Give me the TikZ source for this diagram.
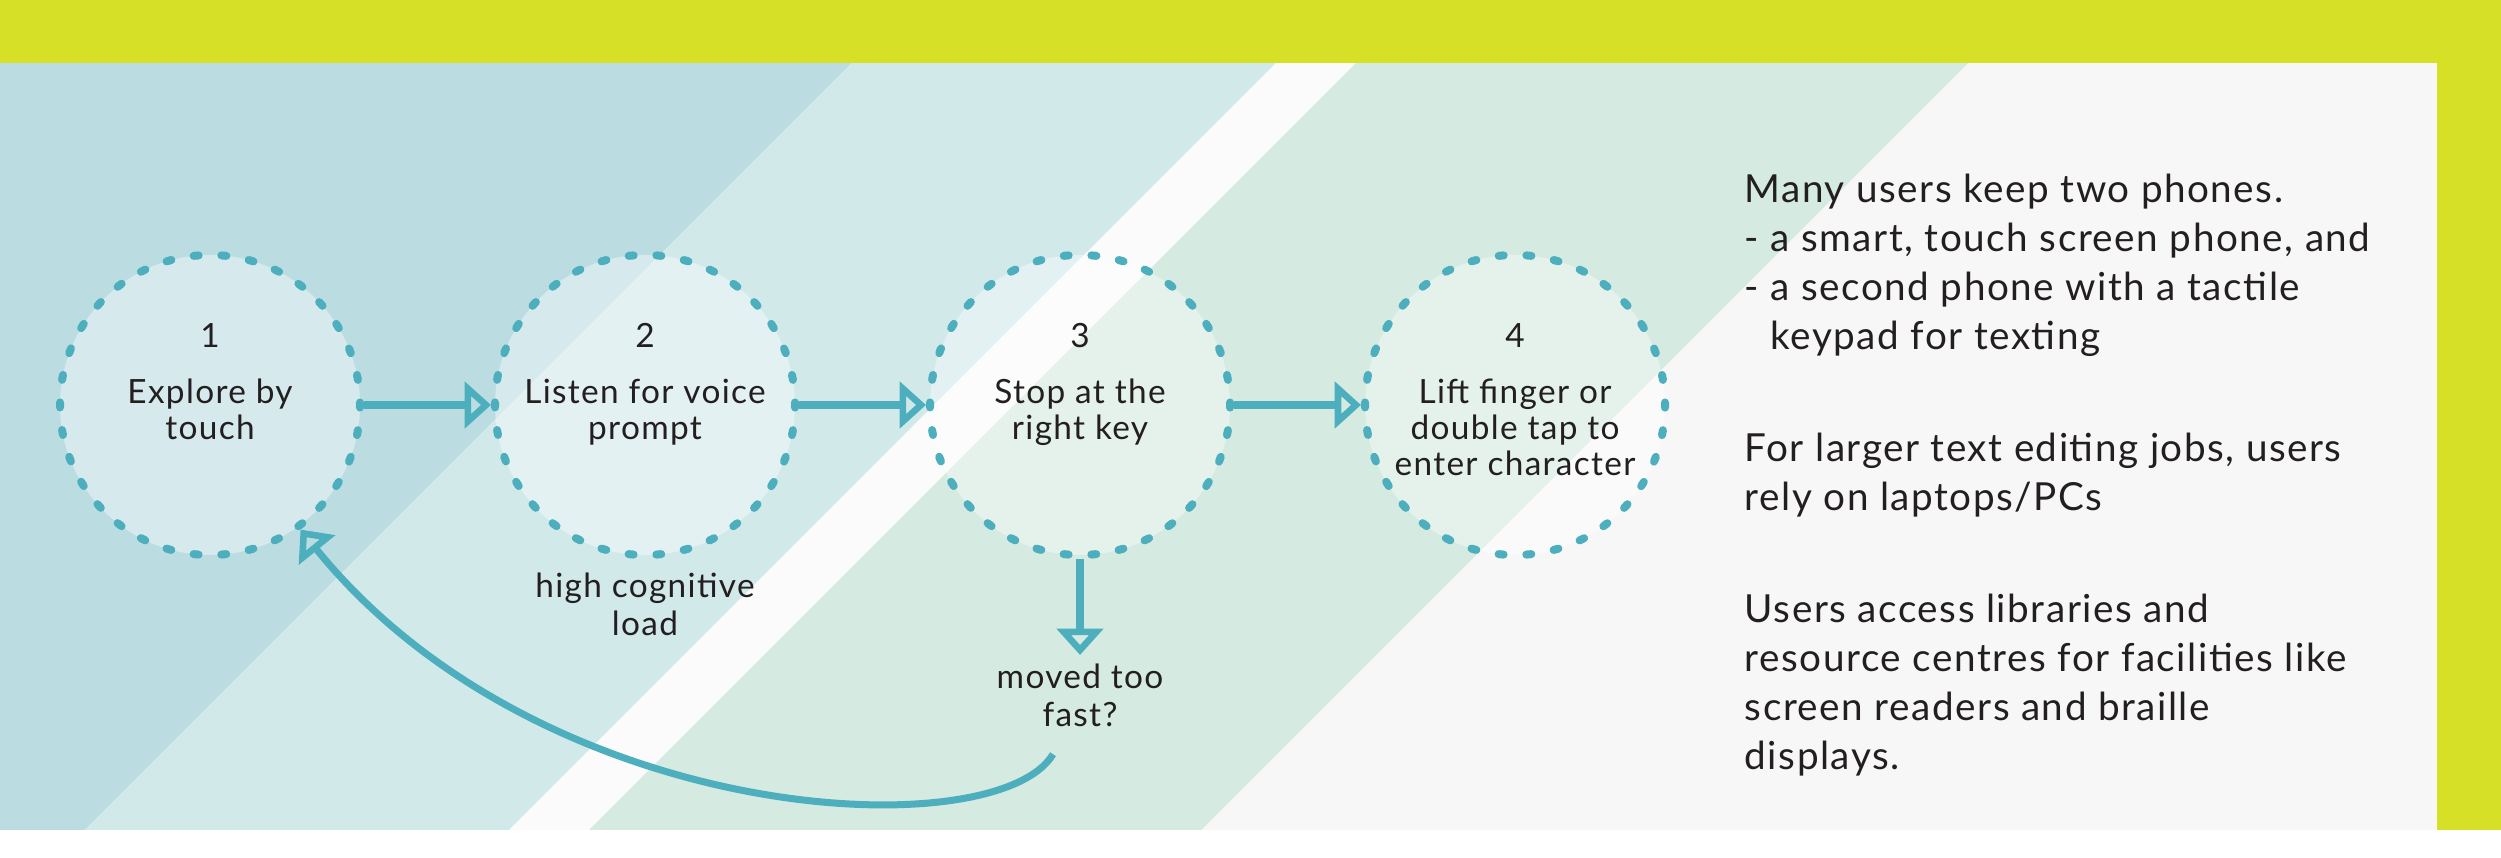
\documentclass[tikz,border=0pt]{standalone}
\usepackage{fontspec}
\setmainfont{Lato}[LetterSpace=4]
\usetikzlibrary{arrows.meta,positioning}
\definecolor{barlime}{HTML}{D5E027}
\definecolor{flowteal}{HTML}{4DAEBD}
\definecolor{inkgrey}{HTML}{231F20}
\definecolor{paper}{HTML}{F6F7F6}
\definecolor{bandblue}{HTML}{BBDDE2}
\definecolor{bandmist}{HTML}{D2E9EA}
\definecolor{bandgap}{HTML}{FAFBFA}
\definecolor{bandgreen}{HTML}{D5EAE0}
\tikzset{>={Triangle[open,length=7.5pt,width=13pt]},node distance=4.35cm}

\begin{document}
\begin{tikzpicture}[line join=round]
                    \tikzset{stepcircle/.style={circle,minimum size=3cm,inner sep=0pt,
                               draw=flowteal,fill=white,fill opacity=0.4,line width=0.08cm,
                               line cap=round,dash pattern=on 0.05cm off 0.2272cm,dash phase=0.025cm},
                             steptext/.style={anchor=north,align=center,inner sep=0pt,text=inkgrey,
                               font=\fontsize{9.5}{10.3}\selectfont},
                             note/.style={align=center,inner sep=0pt,text=inkgrey,
                               font=\fontsize{9.5}{10.8}\selectfont},
                             flow/.style={->,draw=flowteal,line width=0.085cm}}

                        % panel and stripes
                        \useasboundingbox (0,0) rectangle (25.01,8.58);
                        \fill[white] (0,0) rectangle (25.01,8.58);
                        \fill[paper] (0,0.28) rectangle (24.37,7.95);
                        \fill[bandblue] (0,0.28) -- (0,7.95) -- (8.52,7.95) -- (0.85,0.28) -- cycle;
                        \fill[bandmist] (0.85,0.28) -- (8.52,7.95) -- (12.76,7.95) -- (5.09,0.28) -- cycle;
                        \fill[bandgap] (5.09,0.28) -- (12.76,7.95) -- (13.56,7.95) -- (5.89,0.28) -- cycle;
                        \fill[bandgreen] (5.89,0.28) -- (13.56,7.95) -- (19.68,7.95) -- (12.01,0.28) -- cycle;
                        \fill[barlime] (0,7.95) rectangle (25.01,8.58);
                        \fill[barlime] (24.37,0.28) rectangle (25.01,8.58);

                        \node[stepcircle] (c1) at (2.10,4.53) {};
                        \node[stepcircle] (c2) [right of=c1] {};
                        \node[stepcircle] (c3) [right of=c2] {};
                        \node[stepcircle] (c4) [right of=c3] {};

                        \node[steptext] (t1) at ([yshift=-0.72cm]c1.north) {1\\[5.5pt]Explore by\\touch};
                        \node[steptext] (t2) at ([yshift=-0.72cm]c2.north) {2\\[5.5pt]Listen for voice\\prompt};
                        \node[steptext] (t3) at ([yshift=-0.72cm]c3.north) {3\\[5.5pt]Stop at the\\right key};
                        \node[steptext] (t4) at ([yshift=-0.72cm]c4.north) {4\\[5.5pt]Lift finger or\\double tap to\\enter character};

                        \node[note] (load) [below=0.13cm of c2] {high cognitive\\load};
                        \node[note] (moved) [below=1.04cm of c3] {moved too\\fast?};
                        \coordinate (back) at ([shift={(-0.27,-0.27)}]moved.south);

                    \path[flow]
                            (c1)  edge  (c2)
                            (c2)  edge  (c3)
                            (c3)  edge  (c4)
                            (c3)  edge[shorten >=0.08cm]  (moved)
                            ;
                    \draw[flow,line width=0.07cm] (back) to[out=-121,in=-51,out looseness=0.36,in looseness=1.25] (c1.-54);

                        \node[anchor=north west,align=left,inner sep=0pt,text=inkgrey,
                              font=\fontsize{11}{13.95}\selectfont] (notes) at (17.44,6.85)
                              {Many users keep two phones.\\- a smart, touch screen phone, and\\- a second phone with a tactile\\\phantom{- }keypad for texting\\[17.9pt]For larger text editing jobs, users\\rely on laptops/PCs\\[17.9pt]Users access libraries and\\resource centres for facilities like\\screen readers and braille\\displays.};
            \end{tikzpicture}
\end{document}
